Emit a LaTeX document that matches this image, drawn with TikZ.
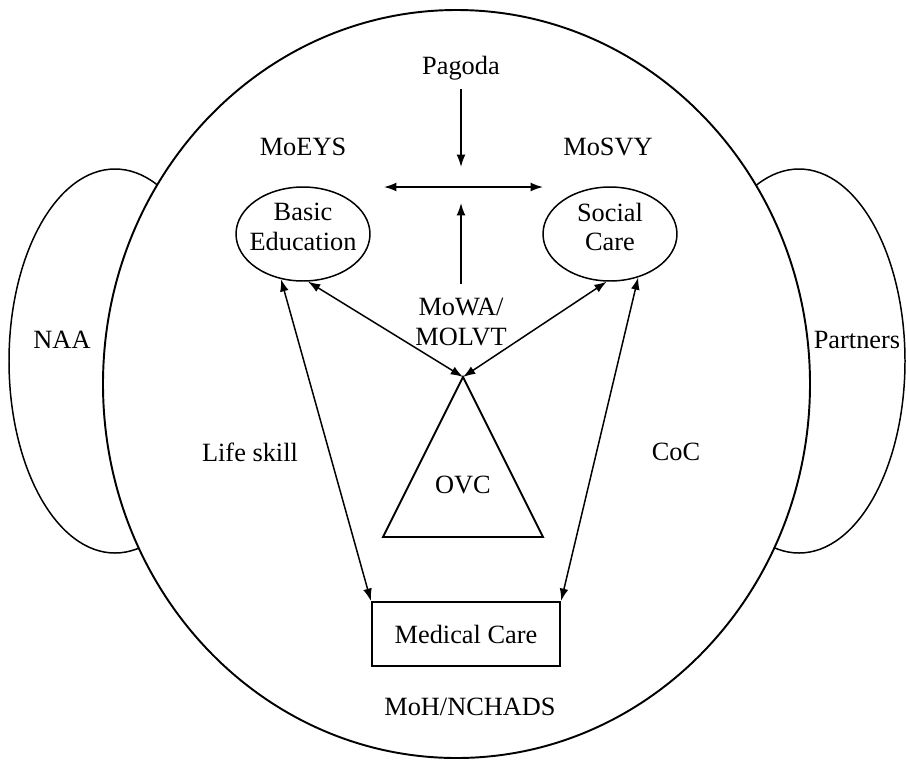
\documentclass[tikz,border=0pt]{standalone}
\usepackage{fontspec}
\setmainfont{Liberation Serif}
\usetikzlibrary{arrows.meta,shapes.geometric}

\begin{document}
\begin{tikzpicture}[x=0.02cm, y=-0.02cm,
  every node/.style={font=\fontsize{15pt}{17pt}\selectfont, align=center, inner sep=0pt},
  link/.style={line width=0.85pt, {Latex[length=7pt,width=5pt]}-{Latex[length=7pt,width=5pt]}},
  oneway/.style={line width=0.85pt, -{Latex[length=7pt,width=5pt]}},
  sector/.style={ellipse, draw, line width=0.85pt, minimum width=2.68cm, minimum height=1.88cm}]

  % Bounding box of the scheme
  \useasboundingbox (0,0) rectangle (906,762);

  %%%%%%%%%%%%%%%%%%%%%%%%%%%%%%%%% Side partners behind the circle %%%%%%%%%%%%%%%%%%%%%%%%%%%%%%%%
  \draw[line width=0.85pt] (115,361) ellipse [x radius=106, y radius=192];
  \draw[line width=0.85pt] (799,361) ellipse [x radius=106, y radius=192];
  \node (naa) at (62,340) {NAA};
  \node (partners) at (857,340) {Partners};

  %%%%%%%%%%%%%%%%%%%%%%%%%%%%%%%%% Big circle %%%%%%%%%%%%%%%%%%%%%%%%%%%%%%%%%%%%
  \draw[line width=1.1pt, fill=white] (456.5,384) ellipse [x radius=353.5, y radius=374];

  % Ministries and services
  \node (pagoda) at (461,68) {Pagoda};
  \node (moeys) at (303,147) {MoEYS};
  \node (mosvy) at (608,147) {MoSVY};
  \node[sector, label={[yshift=0.14cm]center:Basic\\Education}] (be) at (303,234) {};
  \node[sector, label={[yshift=0.14cm]center:Social\\Care}] (sc) at (610,234) {};
  \node (mowa) at (461,322) {MoWA/\\MOLVT};
  \node (lifeskill) at (250,452) {Life skill};
  \node (coc) at (676,452) {CoC};
  \node[draw, line width=1.3pt, minimum width=3.76cm, minimum height=1.28cm] (mc) at (466,634) {Medical Care};
  \node (moh) at (470,707) {MoH/NCHADS};

  % OVC triangle
  \coordinate (apex) at (463,377);
  \coordinate (baseL) at (383,537);
  \coordinate (baseR) at (543,537);
  \draw[line width=1.1pt] (apex) -- (baseL) -- (baseR) -- cycle;
  \node (ovc) at (463,485) {OVC};

  % Arrows in the middle
  \coordinate (pagodaend) at (461,167);
  \coordinate (hubL) at (384,187);
  \coordinate (hubR) at (543,187);
  \coordinate (mowaend) at (461,203);
  \draw[oneway, shorten <=5pt] (pagoda) -- (pagodaend);
  \draw[link] (hubL) -- (hubR);
  \draw[oneway, shorten <=8pt] (mowa) -- (mowaend);

  \draw[link] (be.276) -- (apex);
  \draw[link] (sc.266) -- (apex);
  \draw[link] (be.244) -- (mc.north west);
  \draw[link] (sc.303) -- (mc.north east);

\end{tikzpicture}
\end{document}
